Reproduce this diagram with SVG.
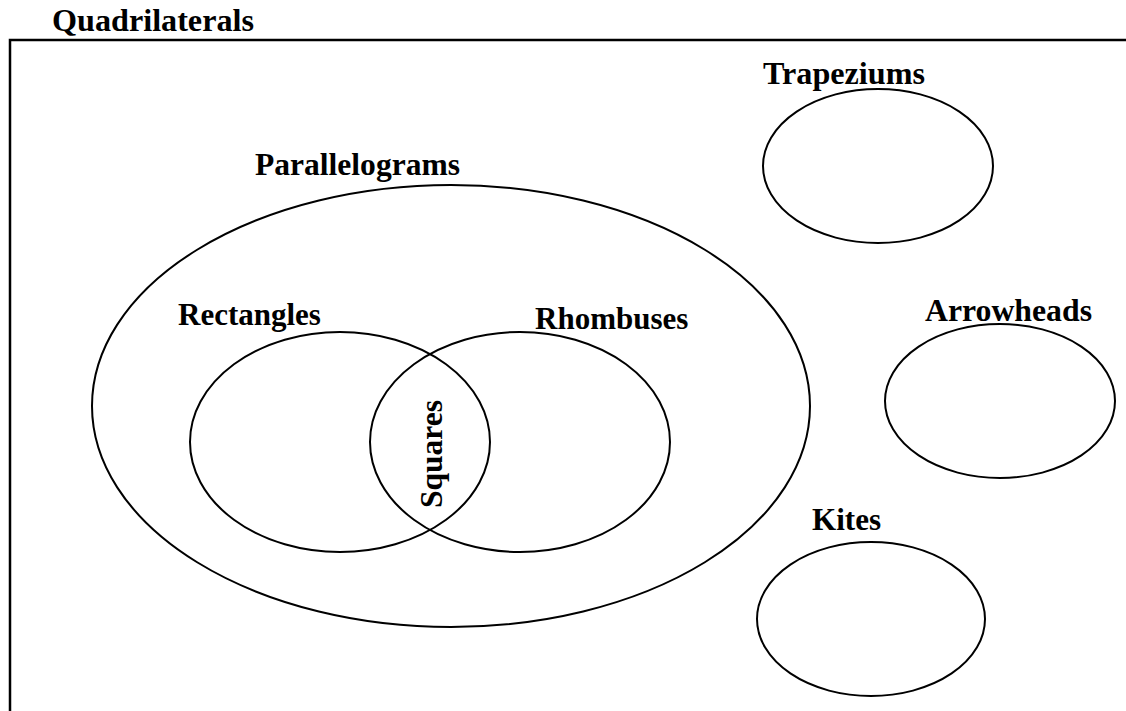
<svg xmlns="http://www.w3.org/2000/svg" width="1126" height="711" viewBox="0 0 1126 711">
<style>
.t{font-family:"Liberation Serif","Times New Roman",serif;font-weight:bold;font-size:31px;fill:#000}
.e{fill:none;stroke:#000;stroke-width:2}
</style>
<rect width="1126" height="711" fill="#fff"/>
<g id="frame">
<path d="M10,711 V40 H1126" fill="none" stroke="#000" stroke-width="2.5"/>
<text class="t" x="52" y="31" textLength="202" lengthAdjust="spacingAndGlyphs">Quadrilaterals</text>
</g>
<g id="parallelograms">
<ellipse class="e" cx="451" cy="406" rx="359" ry="221"/>
<text class="t" x="255" y="175" textLength="205" lengthAdjust="spacingAndGlyphs">Parallelograms</text>
</g>
<g id="rectangles">
<ellipse class="e" cx="340" cy="442" rx="150" ry="110"/>
<text class="t" x="178" y="325">Rectangles</text>
</g>
<g id="rhombuses">
<ellipse class="e" cx="520" cy="442" rx="150" ry="110"/>
<text class="t" x="535" y="329">Rhombuses</text>
</g>
<g id="squares">
<text class="t" transform="translate(442,508) rotate(-90)" x="0" y="0" textLength="108" lengthAdjust="spacingAndGlyphs">Squares</text>
</g>
<g id="trapeziums">
<ellipse class="e" cx="878" cy="166" rx="115" ry="77"/>
<text class="t" x="763" y="84" textLength="162" lengthAdjust="spacingAndGlyphs">Trapeziums</text>
</g>
<g id="arrowheads">
<ellipse class="e" cx="1000" cy="401" rx="115" ry="77"/>
<text class="t" x="925" y="321" textLength="167" lengthAdjust="spacingAndGlyphs">Arrowheads</text>
</g>
<g id="kites">
<ellipse class="e" cx="871" cy="619" rx="114" ry="77"/>
<text class="t" x="812" y="530" textLength="69" lengthAdjust="spacingAndGlyphs">Kites</text>
</g>
<g id="connectors"/>
</svg>
